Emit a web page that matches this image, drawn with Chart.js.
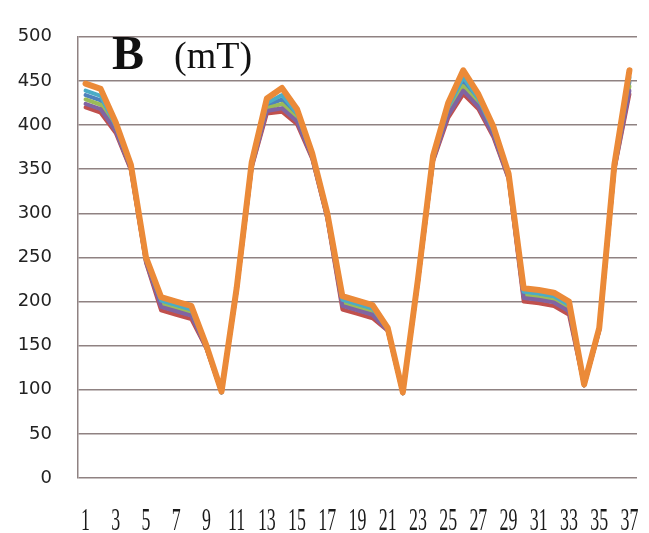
<!DOCTYPE html>
<html>
<head>
<meta charset="utf-8">
<script src="https://cdn.jsdelivr.net/npm/chart.js@4"></script>
<style>
  html, body { margin: 0; padding: 0; background: #fff; }
  #wrap { width: 649px; height: 533px; }
</style>
</head>
<body>
<div id="wrap"><canvas id="chart" width="649" height="533"></canvas></div>
<script>
const categories = ['1','2','3','4','5','6','7','8','9','10','11','12','13','14','15','16','17','18','19','20',
  '21','22','23','24','25','26','27','28','29','30','31','32','33','34','35','36','37'];

// B field (mT), one list per series
const seriesBlue   = [434,428,397,352,247,199,194,189,148,97,213,355,422,429,410,365,297,200,195,190,168,96,223,362,417,449,427,392,342,209,207,204,194,105,168,352,449];
const seriesRed    = [420,414,391,349,244,190,185,180,147,97,212,352,413,415,401,362,294,191,186,181,167,96,222,359,408,435,418,386,339,200,198,195,185,105,167,349,435];
const seriesGreen  = [429,423,395,351,246,197,192,187,148,97,213,354,419,424,407,364,296,198,193,188,168,96,223,361,414,444,424,390,341,207,205,202,192,105,168,351,444];
const seriesPurple = [424,418,393,350,245,194,189,184,147,97,212,353,416,419,404,363,295,195,190,185,167,96,222,360,411,439,421,388,340,204,202,199,189,105,167,350,439];
const seriesAqua   = [439,433,399,353,248,201,196,191,149,97,214,356,425,434,413,366,298,202,197,192,169,96,224,363,420,454,430,394,343,211,209,206,196,105,169,353,454];
const seriesOrange = [447,441,403,355,250,205,200,195,150,98,215,358,430,442,418,368,300,206,201,196,170,97,225,365,425,462,435,398,345,215,213,210,200,106,170,355,462];

const yMin = 0;
const yMax = 500;
const yStep = 50;

const gridColor = '#8f8282';

// lower order is painted on top
function line(data, color, width, order) {
  return {
    data,
    order,
    borderColor: color,
    backgroundColor: color,
    borderWidth: width,
    pointRadius: 0,
    tension: 0,
    borderJoinStyle: 'round',
    borderCapStyle: 'round',
    fill: false,
  };
}

// title and odd category labels, drawn as text on the canvas
const overlay = {
  id: 'overlay',
  afterDraw(chart) {
    const ctx = chart.ctx;
    const xs = chart.scales.x;
    ctx.save();
    ctx.fillStyle = '#111';
    ctx.textBaseline = 'alphabetic';
    ctx.textAlign = 'left';
    ctx.font = 'bold 48px "Liberation Serif"';
    ctx.fillText('B', 112, 69);
    ctx.font = '38px "Liberation Serif"';
    ctx.fillText('(mT)', 174, 68);

    ctx.fillStyle = '#1a1a1a';
    ctx.font = '32px "Liberation Serif"';
    ctx.textAlign = 'center';
    categories.forEach((c, i) => {
      if (i % 2 !== 0) return;
      const x = xs.getPixelForValue(i);
      ctx.save();
      ctx.translate(x, 530);
      ctx.scale(0.56, 1);
      ctx.fillText(c, 0, 0);
      ctx.restore();
    });
    ctx.restore();
  },
};

new Chart(document.getElementById('chart'), {
  type: 'line',
  data: {
    labels: categories,
    datasets: [
      line(seriesBlue, '#4F81BD', 4, 6),
      line(seriesRed, '#C0504D', 4, 5),
      line(seriesGreen, '#9BBB59', 4, 4),
      line(seriesPurple, '#8064A2', 4, 3),
      line(seriesAqua, '#4BACC6', 4, 2),
      line(seriesOrange, '#EB8A38', 6, 1),
    ],
  },
  options: {
    responsive: false,
    animation: false,
    layout: { padding: { top: 19, right: 12, left: 0, bottom: 0 } },
    plugins: {
      legend: { display: false },
      tooltip: { enabled: false },
    },
    scales: {
      x: {
        offset: true,
        grid: { display: false, drawTicks: false },
        border: { display: false },
        ticks: { display: false },
        afterFit: s => { s.height = 55; },
      },
      y: {
        min: yMin,
        max: yMax,
        ticks: {
          stepSize: yStep,
          color: '#222',
          padding: 26,
          font: { family: '"DejaVu Sans"', size: 18 },
        },
        grid: { color: gridColor, lineWidth: 1.5, drawTicks: false },
        border: { display: true, color: gridColor, width: 1.5 },
        afterFit: s => { s.width = 78; },
      },
    },
  },
  plugins: [overlay],
});
</script>
</body>
</html>
